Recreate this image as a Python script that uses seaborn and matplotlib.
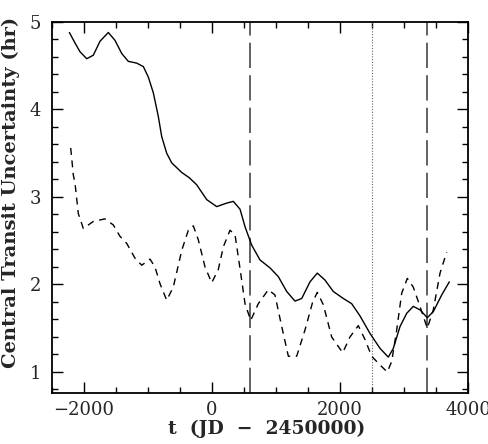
import matplotlib
matplotlib.use("Agg")
import matplotlib.pyplot as plt
from matplotlib.ticker import MultipleLocator
import seaborn as sns

# values
t_solid = [-2229, -2141, -2063, -1958, -1855, -1750, -1620, -1516, -1411, -1308,
           -1177, -1073, -995, -917, -839, -786, -708, -630, -473, -355, -240,
           -83, 73, 230, 333, 438, 516, 620, 750, 906, 1036, 1167, 1297, 1402,
           1531, 1645, 1766, 1895, 2052, 2183, 2313, 2469, 2625, 2755, 2833,
           2938, 3042, 3145, 3250, 3364, 3458, 3589, 3708]
u_solid = [4.88, 4.76, 4.66, 4.58, 4.62, 4.78, 4.88, 4.79, 4.64, 4.55,
           4.53, 4.49, 4.37, 4.19, 3.92, 3.69, 3.50, 3.39, 3.28, 3.22, 3.14,
           2.97, 2.89, 2.93, 2.95, 2.86, 2.66, 2.45, 2.28, 2.19, 2.09, 1.92, 1.81, 1.84,
           2.03, 2.13, 2.05, 1.92, 1.84, 1.78, 1.64, 1.44, 1.27, 1.17, 1.27,
           1.52, 1.67, 1.75, 1.71, 1.62, 1.69, 1.88, 2.03]

t_dash = [-2208, -2167, -2141, -2089, -2011, -1855, -1672, -1542, -1438, -1333,
          -1203, -1098, -969, -891, -813, -708, -605, -473, -370, -292, -214,
          -109, -5, 98, 177, 281, 359, 438, 516, 605, 723, 880, 984, 1089,
          1193, 1323, 1453, 1573, 1645, 1739, 1870, 2042, 2156, 2286, 2391,
          2495, 2625, 2739, 2808, 2886, 2964, 3052, 3145, 3250, 3364, 3458,
          3563, 3667]
u_dash = [3.56, 3.25, 3.16, 2.81, 2.64, 2.72, 2.75, 2.68, 2.55, 2.47,
          2.30, 2.22, 2.29, 2.20, 2.01, 1.82, 1.97, 2.39, 2.62, 2.67, 2.51,
          2.20, 2.02, 2.17, 2.43, 2.62, 2.57, 2.18, 1.78, 1.59, 1.78, 1.94, 1.88, 1.52,
          1.18, 1.18, 1.48, 1.80, 1.91, 1.77, 1.40, 1.22, 1.40, 1.53, 1.37,
          1.18, 1.08, 1.00, 1.12, 1.48, 1.90, 2.07, 1.97, 1.75, 1.50, 1.71,
          2.13, 2.37]

vline_dashed = [600, 3360]
vline_dotted = [2500]

sns.set_style("ticks")
plt.rcParams['font.family'] = ['DejaVu Serif']

fig = plt.figure(figsize=(4.88, 4.44), dpi=100)
ax = fig.add_axes([0.1066, 0.1149, 0.8524, 0.8356])

for xv in vline_dashed:
    ax.axvline(xv, color='#555555', lw=1.3, dashes=(14, 4))
for xv in vline_dotted:
    ax.axvline(xv, color='#666666', lw=0.8, dashes=(1, 1.5))

sns.lineplot(x=t_solid, y=u_solid, ax=ax, color='black', lw=1.0)
sns.lineplot(x=t_dash, y=u_dash, ax=ax, color='black', lw=1.0,
             linestyle=(0, (5, 4)))

ax.set_xlim(-2500, 4000)
ax.set_ylim(0.76, 5)
ax.xaxis.set_major_locator(MultipleLocator(2000))
ax.xaxis.set_minor_locator(MultipleLocator(500))
ax.yaxis.set_major_locator(MultipleLocator(1))
ax.yaxis.set_minor_locator(MultipleLocator(0.2))
ax.tick_params(which='both', direction='in', top=True, right=True, labelsize=13,
               width=1.0, color='black')
ax.tick_params(which='major', length=8)
ax.tick_params(which='minor', length=4)
ax.tick_params(axis='x', pad=6)
ax.tick_params(axis='y', pad=8)
for s in ax.spines.values():
    s.set_linewidth(1.3)
    s.set_color('black')

ax.set_xlabel('t  (JD  \u2212  2450000)', fontsize=13.5, fontweight='bold')
ax.set_ylabel('Central Transit Uncertainty (hr)', fontsize=14, fontweight='bold')
ax.xaxis.set_label_coords(0.517, -0.073)
ax.yaxis.set_label_coords(-0.098, 0.54)
ax.yaxis.label.set_verticalalignment('center')

fig.savefig('out.png', dpi=100)
